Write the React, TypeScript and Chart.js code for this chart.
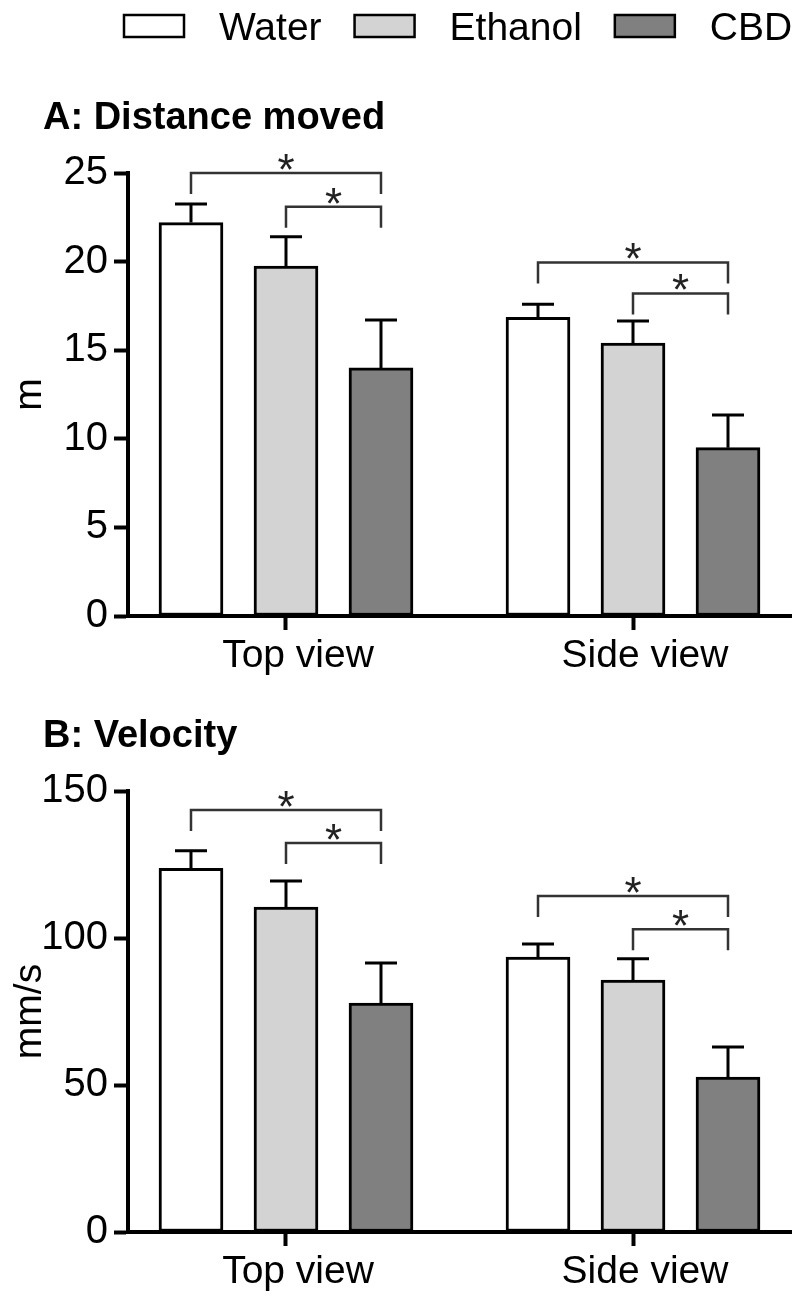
import React, { useEffect, useRef } from "react";
import { Chart, registerables } from "chart.js";

Chart.register(...registerables);

const FONT = '"Liberation Sans", Arial, Helvetica, sans-serif';

const CATEGORIES = ["Top view", "Side view"];
const GROUPS = ["Water", "Ethanol", "CBD"];
const COLORS = ["#ffffff", "#d3d3d3", "#808080"];

// Panel A: Distance moved (m)
const DIST_WATER = [22.2, 16.85];
const DIST_ETHANOL = [19.75, 15.4];
const DIST_CBD = [14.0, 9.5];
const DIST_WATER_SEM = [1.05, 0.75];
const DIST_ETHANOL_SEM = [1.65, 1.25];
const DIST_CBD_SEM = [2.7, 1.85];
const DIST_TICKS = [0, 5, 10, 15, 20, 25];

// Panel B: Velocity (mm/s)
const VEL_WATER = [123.7, 93.5];
const VEL_ETHANOL = [110.5, 85.7];
const VEL_CBD = [77.9, 52.7];
const VEL_WATER_SEM = [6.0, 4.5];
const VEL_ETHANOL_SEM = [8.9, 7.2];
const VEL_CBD_SEM = [13.6, 10.2];
const VEL_TICKS = [0, 50, 100, 150];

// Significance brackets (same comparisons in both panels)
const BRACKET_CATEGORY = [0, 0, 1, 1];
const BRACKET_FROM = [0, 1, 0, 1];
const BRACKET_TO = [2, 2, 2, 2];
const BRACKET_MARK = ["*", "*", "*", "*"];
const DIST_BRACKET_LEVEL = [25.0, 23.1, 19.95, 18.2];
const VEL_BRACKET_LEVEL = [143.5, 132.3, 114.3, 103.0];

// x-range of the linear category axis (category index units)
const X_MIN = -0.4553;
const X_MAX = 1.4582;

type PanelDef = {
  title: string;
  yTitle: string;
  max: number;
  ticks: number[];
  values: number[][];
  sems: number[][];
  levels: number[];
  padTop: number;
  xHeight: number;
  height: number;
  legend: boolean;
};

const PANEL_A: PanelDef = {
  title: "A: Distance moved",
  yTitle: "m",
  max: 25,
  ticks: DIST_TICKS,
  values: [DIST_WATER, DIST_ETHANOL, DIST_CBD],
  sems: [DIST_WATER_SEM, DIST_ETHANOL_SEM, DIST_CBD_SEM],
  levels: DIST_BRACKET_LEVEL,
  padTop: 173,
  xHeight: 74,
  height: 690,
  legend: true,
};

const PANEL_B: PanelDef = {
  title: "B: Velocity",
  yTitle: "mm/s",
  max: 150,
  ticks: VEL_TICKS,
  values: [VEL_WATER, VEL_ETHANOL, VEL_CBD],
  sems: [VEL_WATER_SEM, VEL_ETHANOL_SEM, VEL_CBD_SEM],
  levels: VEL_BRACKET_LEVEL,
  padTop: 101,
  xHeight: 64,
  height: 606,
  legend: false,
};

function buildConfig(panel: PanelDef): any {
  const errorBars = {
    id: "errorBars",
    afterDatasetsDraw(chart: any) {
      const ctx = chart.ctx;
      const y = chart.scales.y;
      ctx.save();
      ctx.strokeStyle = "#000";
      ctx.lineWidth = 3;
      chart.data.datasets.forEach((ds: any, i: number) => {
        const meta = chart.getDatasetMeta(i);
        meta.data.forEach((bar: any, j: number) => {
          const v = ds.data[j].y;
          const e = panel.sems[i][j];
          const yTop = y.getPixelForValue(v);
          const yErr = y.getPixelForValue(v + e);
          ctx.beginPath();
          ctx.moveTo(bar.x, yTop);
          ctx.lineTo(bar.x, yErr);
          ctx.moveTo(bar.x - 16, yErr);
          ctx.lineTo(bar.x + 16, yErr);
          ctx.stroke();
        });
      });
      ctx.restore();
    },
  };

  const brackets = {
    id: "brackets",
    afterDatasetsDraw(chart: any) {
      const ctx = chart.ctx;
      const y = chart.scales.y;
      ctx.save();
      ctx.strokeStyle = "#333";
      ctx.fillStyle = "#222";
      ctx.lineWidth = 2.5;
      ctx.font = `44px ${FONT}`;
      ctx.textAlign = "center";
      ctx.textBaseline = "alphabetic";
      panel.levels.forEach((lvl, k) => {
        const c = BRACKET_CATEGORY[k];
        const x1 = chart.getDatasetMeta(BRACKET_FROM[k]).data[c].x;
        const x2 = chart.getDatasetMeta(BRACKET_TO[k]).data[c].x;
        const yy = y.getPixelForValue(lvl);
        ctx.beginPath();
        ctx.moveTo(x1, yy + 21);
        ctx.lineTo(x1, yy);
        ctx.lineTo(x2, yy);
        ctx.lineTo(x2, yy + 21);
        ctx.stroke();
        ctx.fillText(BRACKET_MARK[k], (x1 + x2) / 2, yy + 12);
      });
      ctx.restore();
    },
  };

  const headings = {
    id: "headings",
    afterDraw(chart: any) {
      const ctx = chart.ctx;
      const area = chart.chartArea;
      ctx.save();
      ctx.fillStyle = "#000";
      ctx.textAlign = "left";
      ctx.textBaseline = "alphabetic";
      ctx.font = `bold 38px ${FONT}`;
      ctx.fillText(panel.title, 43, area.top - 44);
      if (panel.legend) {
        ctx.font = `39px ${FONT}`;
        let x = 124;
        chart.data.datasets.forEach((ds: any) => {
          ctx.fillStyle = ds.backgroundColor;
          ctx.fillRect(x, 15, 60, 22);
          ctx.strokeStyle = "#000";
          ctx.lineWidth = 2.5;
          ctx.strokeRect(x, 15, 60, 22);
          ctx.fillStyle = "#000";
          ctx.fillText(ds.label, x + 95, 40);
          x += 95 + ctx.measureText(ds.label).width + 33;
        });
      }
      ctx.restore();
    },
  };

  return {
    type: "bar",
    data: {
      datasets: GROUPS.map((g, i) => ({
        label: g,
        data: CATEGORIES.map((_, j) => ({ x: j, y: panel.values[i][j] })),
        backgroundColor: COLORS[i],
        borderColor: "#000",
        borderWidth: 3,
        borderSkipped: false,
        barThickness: 95,
        maxBarThickness: 64,
      })),
    },
    options: {
      animation: false,
      responsive: false,
      events: [],
      layout: { padding: { top: panel.padTop, left: 0, right: 0, bottom: 0 } },
      plugins: {
        legend: { display: false },
        tooltip: { enabled: false },
        title: { display: false },
      },
      scales: {
        x: {
          type: "linear",
          min: X_MIN,
          max: X_MAX,
          offset: false,
          bounds: "data",
          afterBuildTicks: (s: any) => {
            s.ticks = CATEGORIES.map((_, j) => ({ value: j }));
          },
          afterFit: (s: any) => {
            s.height = panel.xHeight;
          },
          grid: {
            display: true,
            drawOnChartArea: false,
            drawTicks: true,
            tickLength: 14,
            tickWidth: 4,
            tickColor: "#000",
            offset: false,
          },
          border: { display: true, color: "#000", width: 4, z: 1 },
          ticks: {
            callback: (v: any) => CATEGORIES[v] ?? "",
            font: { family: FONT, size: 39 },
            color: "#000",
            padding: 3,
            labelOffset: 12,
            maxRotation: 0,
            autoSkip: false,
          },
        },
        y: {
          type: "linear",
          min: 0,
          max: panel.max,
          afterFit: (s: any) => {
            s.width = 128;
          },
          afterBuildTicks: (s: any) => {
            s.ticks = panel.ticks.map((v) => ({ value: v }));
          },
          grid: {
            display: true,
            drawOnChartArea: false,
            drawTicks: true,
            tickLength: 14,
            tickWidth: 4,
            tickColor: "#000",
          },
          border: { display: true, color: "#000", width: 4, z: 1 },
          ticks: {
            font: { family: FONT, size: 40 },
            color: "#000",
            padding: 6,
          },
          title: {
            display: true,
            text: panel.yTitle,
            font: { family: FONT, size: 39 },
            color: "#000",
            padding: { top: 7, bottom: 0 },
          },
        },
      },
    },
    plugins: [errorBars, brackets, headings],
  };
}

function Panel({ panel, top }: { panel: PanelDef; top: number }) {
  const ref = useRef<HTMLCanvasElement>(null);
  useEffect(() => {
    const chart = new Chart(ref.current as HTMLCanvasElement, buildConfig(panel));
    return () => chart.destroy();
  }, [panel]);
  return (
    <canvas
      ref={ref}
      width={792}
      height={panel.height}
      style={{ position: "absolute", left: 0, top, display: "block" }}
    />
  );
}

export default function App() {
  return (
    <div
      style={{
        position: "absolute",
        left: 0,
        top: 0,
        width: 792,
        height: 1296,
        overflow: "hidden",
        background: "#fff",
      }}
    >
      <Panel panel={PANEL_A} top={0} />
      <Panel panel={PANEL_B} top={690} />
    </div>
  );
}
